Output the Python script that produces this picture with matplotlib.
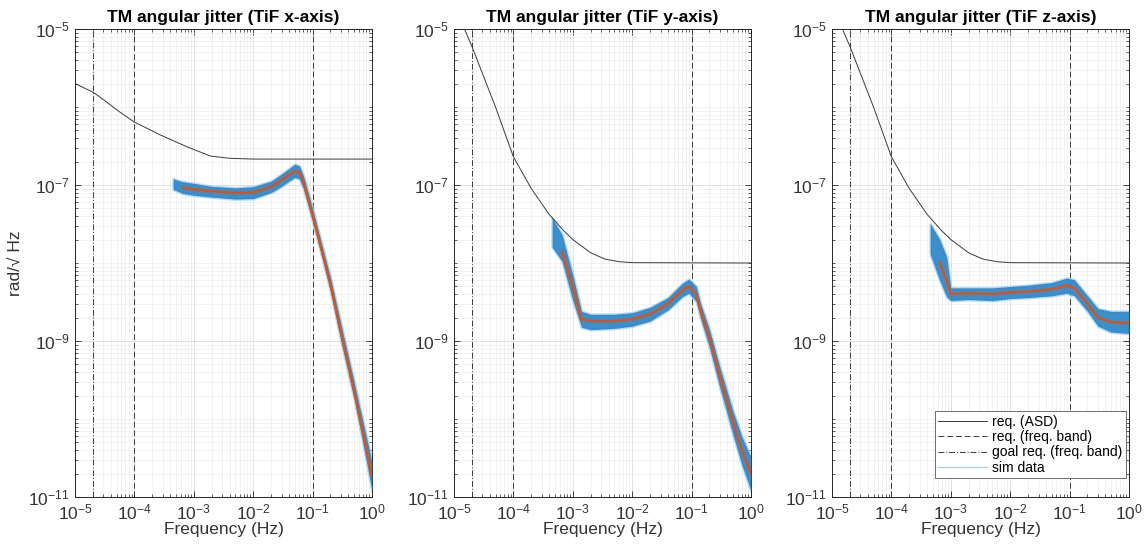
import numpy as np
import matplotlib
matplotlib.use("Agg")
import matplotlib.pyplot as plt
from matplotlib.ticker import LogLocator, LogFormatterSciNotation, NullFormatter, FixedLocator
from matplotlib.lines import Line2D

plt.rcParams['font.family'] = ['Liberation Sans', 'DejaVu Sans']
plt.rcParams['mathtext.fontset'] = 'custom'
plt.rcParams['mathtext.rm'] = 'Liberation Sans'

# ---- data ----
titles = ["TM angular jitter (TiF x-axis)",
          "TM angular jitter (TiF y-axis)",
          "TM angular jitter (TiF z-axis)"]
y_ticks = [1e-11, 1e-9, 1e-7, 1e-5]

# requirement ASD curves
req_x_f = [1e-5, 2e-5, 2.6e-5, 5.7e-5, 1e-4, 1.5e-4, 2.7e-4, 4.5e-4, 7.6e-4, 1.9e-3, 4e-3, 1e-2, 1.0]
req_x_v = [2.0e-6, 1.55e-6, 1.35e-6, 8.6e-7, 6.4e-7, 5.5e-7, 4.4e-7, 3.7e-7, 3.1e-7, 2.35e-7, 2.2e-7, 2.15e-7, 2.15e-7]
req_yz_f = [1.5e-5, 2e-5, 5e-5, 1e-4, 2e-4, 4e-4, 7e-4, 1e-3, 2e-3, 3.5e-3, 6e-3, 1e-2, 1.0]
req_yz_v = [1e-5, 6e-6, 1e-6, 2.3e-7, 9e-8, 4.2e-8, 2.6e-8, 2e-8, 1.35e-8, 1.12e-8, 1.04e-8, 1.01e-8, 1e-8]

# frequency bands
req_band = [1e-4, 1e-1]
goal_band = [2e-5, 1.0]

# simulated data: frequency, mean, envelope of the Monte-Carlo traces
sim_x_f = [4.5e-4, 6.5e-4, 1e-3, 2e-3, 5e-3, 1e-2, 2e-2, 3e-2, 4e-2, 5e-2, 6e-2, 7e-2, 0.1, 0.15, 0.2, 0.3, 0.5, 0.7, 1.0]
sim_x_mean = [np.nan, 9.2e-8, 8.8e-8, 8.3e-8, 7.9e-8, 8.0e-8, 9.5e-8, 1.15e-7, 1.35e-7, 1.5e-7, 1.45e-7, 1.1e-7, 4.1e-8, 1.25e-8, 5.3e-9, 1.3e-9, 2.3e-10, 7e-11, 1.8e-11]
sim_x_hi = [1.2e-7, 1.1e-7, 1.05e-7, 9.6e-8, 9.2e-8, 9.5e-8, 1.12e-7, 1.38e-7, 1.62e-7, 1.85e-7, 1.75e-7, 1.32e-7, 5.0e-8, 1.5e-8, 6.5e-9, 1.65e-9, 3.0e-10, 9.5e-11, 2.8e-11]
sim_x_lo = [8.8e-8, 7.8e-8, 7.4e-8, 7.0e-8, 6.6e-8, 6.7e-8, 8.0e-8, 9.6e-8, 1.12e-7, 1.25e-7, 1.2e-7, 9.0e-8, 3.4e-8, 1.05e-8, 4.3e-9, 1.0e-9, 1.8e-10, 5.0e-11, 1.2e-11]

sim_y_f = [4.5e-4, 6.6e-4, 1e-3, 1.4e-3, 2e-3, 5e-3, 1e-2, 2e-2, 4e-2, 7e-2, 0.09, 0.12, 0.14, 0.2, 0.3, 0.5, 0.7, 1.0]
sim_y_mean = [np.nan, 1.4e-8, 5e-9, 1.9e-9, 1.8e-9, 1.8e-9, 1.9e-9, 2.2e-9, 3e-9, 4.5e-9, 5e-9, 4e-9, 2.5e-9, 1.1e-9, 3.5e-10, 9e-11, 4e-11, 2e-11]
sim_y_hi = [3.8e-8, 2.3e-8, 7e-9, 2.4e-9, 2.2e-9, 2.2e-9, 2.3e-9, 2.7e-9, 3.6e-9, 5.5e-9, 6.2e-9, 5.0e-9, 3.1e-9, 1.4e-9, 4.6e-10, 1.25e-10, 6e-11, 3.2e-11]
sim_y_lo = [1.6e-8, 1.05e-8, 3.3e-9, 1.5e-9, 1.4e-9, 1.45e-9, 1.55e-9, 1.8e-9, 2.5e-9, 3.7e-9, 4.1e-9, 3.2e-9, 2.0e-9, 8.2e-10, 2.5e-10, 6.2e-11, 2.6e-11, 1.2e-11]

sim_z_f = [4.5e-4, 6.5e-4, 8.5e-4, 1e-3, 2e-3, 5e-3, 1e-2, 2e-2, 5e-2, 0.09, 0.12, 0.2, 0.3, 0.5, 1.0]
sim_z_mean = [np.nan, 1e-8, 6e-9, 4e-9, 4.1e-9, 4e-9, 4.2e-9, 4.3e-9, 4.6e-9, 5.1e-9, 4.8e-9, 3e-9, 2e-9, 1.75e-9, 1.7e-9]
sim_z_hi = [3.2e-8, 2.0e-8, 1.2e-8, 4.8e-9, 4.8e-9, 4.8e-9, 5.0e-9, 5.2e-9, 5.6e-9, 6.4e-9, 6.1e-9, 3.8e-9, 2.6e-9, 2.4e-9, 2.4e-9]
sim_z_lo = [1.3e-8, 6e-9, 3.7e-9, 3.3e-9, 3.4e-9, 3.3e-9, 3.5e-9, 3.6e-9, 3.8e-9, 4.1e-9, 3.8e-9, 2.4e-9, 1.55e-9, 1.3e-9, 1.25e-9]

panels = [
    (req_x_f, req_x_v, sim_x_f, sim_x_mean, sim_x_lo, sim_x_hi),
    (req_yz_f, req_yz_v, sim_y_f, sim_y_mean, sim_y_lo, sim_y_hi),
    (req_yz_f, req_yz_v, sim_z_f, sim_z_mean, sim_z_lo, sim_z_hi),
]

BLUE = '#1a7cc4'
LIGHT = '#9ccbec'
RED = '#D95319'
AX = '#262626'
TXT = '#333333'

fig = plt.figure(figsize=(11.47, 5.53), dpi=100)
lefts = [75 / 1147, 454 / 1147, 832 / 1147]
w = 297 / 1147
b = 56 / 553
h = 468 / 553

for i, (rf, rv, sf, sm, slo, shi) in enumerate(panels):
    ax = fig.add_axes([lefts[i], b, w, h])
    ax.set_xscale('log')
    ax.set_yscale('log')

    # sim data cloud
    ax.fill_between(sf, slo, shi, color=LIGHT, lw=2.0, edgecolor=LIGHT, alpha=0.7, zorder=2)
    ax.fill_between(sf, slo, shi, color=BLUE, lw=0, alpha=0.8, zorder=3)
    ax.plot(sf, sm, color=RED, lw=1.8, zorder=4)

    # requirement
    ax.plot(rf, rv, color='#3a3a3a', lw=0.7, zorder=5)
    for f in req_band:
        ax.axvline(f, color='#3a3a3a', lw=0.7, ls=(0, (6, 3)), zorder=1)
    for f in goal_band:
        ax.axvline(f, color='#3a3a3a', lw=0.7, ls=(0, (6, 2, 1, 2)), zorder=1)

    ax.set_xlim(1e-5, 1.0)
    ax.set_ylim(1e-11, 1e-5)

    ax.xaxis.set_major_locator(LogLocator(base=10, numticks=10))
    ax.xaxis.set_minor_locator(LogLocator(base=10, subs=np.arange(2, 10), numticks=20))
    ax.yaxis.set_major_locator(FixedLocator(y_ticks))
    ax.yaxis.set_minor_locator(LogLocator(base=10, subs=np.arange(1, 10), numticks=20))
    ax.xaxis.set_major_formatter(LogFormatterSciNotation())
    ax.yaxis.set_major_formatter(LogFormatterSciNotation())
    ax.xaxis.set_minor_formatter(NullFormatter())
    ax.yaxis.set_minor_formatter(NullFormatter())

    ax.grid(True, which='major', color='#dcdcdc', lw=0.6)
    ax.grid(True, which='minor', color='#ececec', lw=0.5)
    ax.set_axisbelow(True)

    ax.tick_params(which='both', direction='in', top=True, right=True, colors=AX,
                   labelcolor=TXT, labelsize=12.5)
    ax.tick_params(which='major', length=4, width=0.6, pad=4)
    ax.tick_params(which='minor', length=2, width=0.5)
    for s in ax.spines.values():
        s.set_color(AX)
        s.set_linewidth(0.7)

    ax.set_title(titles[i], fontsize=12.5, fontweight='bold', pad=5)
    ax.set_xlabel('Frequency (Hz)', fontsize=12.5, color=TXT, labelpad=0)
    if i == 0:
        ax.set_ylabel('rad/\u221a Hz', fontsize=12.5, color=TXT, labelpad=4)
    if i == 2:
        handles = [
            Line2D([], [], color='#3a3a3a', lw=0.7),
            Line2D([], [], color='#3a3a3a', lw=0.7, ls=(0, (6, 3))),
            Line2D([], [], color='#3a3a3a', lw=0.7, ls=(0, (6, 2, 1, 2))),
            Line2D([], [], color=LIGHT, lw=0.8),
        ]
        leg = ax.legend(handles, ['req. (ASD)', 'req. (freq. band)',
                                  'goal req. (freq. band)', 'sim data'],
                        loc='lower right', bbox_to_anchor=(0.99, 0.04),
                        fontsize=10, fancybox=False,
                        framealpha=1, edgecolor='#555555', borderpad=0.25,
                        labelspacing=0.1, handlelength=3.5, handletextpad=0.4,
                        borderaxespad=0.0)
        leg.get_frame().set_linewidth(0.6)

fig.savefig('out.png', dpi=100)
